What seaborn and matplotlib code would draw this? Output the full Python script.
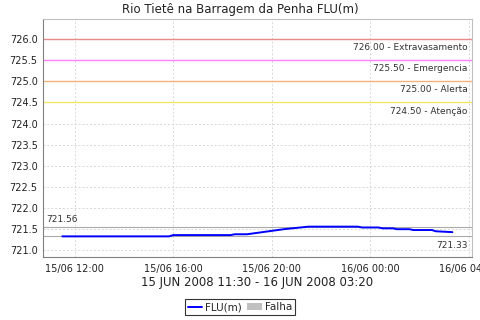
import matplotlib
matplotlib.use("Agg")
import matplotlib.pyplot as plt
import matplotlib.dates as mdates
from matplotlib.lines import Line2D
from matplotlib.patches import Patch
import seaborn as sns
import pandas as pd

times = ["2008-06-15 11:30", "2008-06-15 12:00", "2008-06-15 13:00", "2008-06-15 14:00",
         "2008-06-15 15:00", "2008-06-15 15:50", "2008-06-15 16:00", "2008-06-15 17:00",
         "2008-06-15 18:00", "2008-06-15 18:20", "2008-06-15 18:30", "2008-06-15 19:00",
         "2008-06-15 19:30", "2008-06-15 20:00", "2008-06-15 20:30", "2008-06-15 21:00",
         "2008-06-15 21:30", "2008-06-15 22:00", "2008-06-15 23:00", "2008-06-15 23:30",
         "2008-06-15 23:40", "2008-06-16 00:20", "2008-06-16 00:30", "2008-06-16 00:55",
         "2008-06-16 01:05", "2008-06-16 01:35", "2008-06-16 01:45", "2008-06-16 02:30",
         "2008-06-16 02:40", "2008-06-16 03:00", "2008-06-16 03:20"]
values = [721.33, 721.33, 721.33, 721.33,
          721.33, 721.33, 721.36, 721.36,
          721.36, 721.36, 721.38, 721.38,
          721.42, 721.46, 721.50, 721.53,
          721.56, 721.56, 721.56, 721.56,
          721.54, 721.54, 721.52, 721.52,
          721.50, 721.50, 721.48, 721.48,
          721.45, 721.44, 721.43]

thresh_values = [726.00, 725.50, 725.00, 724.50]
thresh_labels = ["726.00 - Extravasamento", "725.50 - Emergencia", "725.00 - Alerta", "724.50 - Atenção"]
thresh_colors = ["#E88A8A", "#FF7FFF", "#F4B27A", "#F2E66A"]

title = "Rio Tietê na Barragem da Penha FLU(m)"
xlabel = "15 JUN 2008 11:30 - 16 JUN 2008 03:20"

df = pd.DataFrame({"time": pd.to_datetime(times), "FLU(m)": values})

sns.set_style("white")
plt.rcParams["font.family"] = ["DejaVu Sans"]

fig = plt.figure(figsize=(4.8, 3.2), dpi=100)
ax = fig.add_axes([0.090, 0.198, 0.893, 0.742])

ax.grid(True, color="#D8D8D8", linestyle=(0, (2, 2)), linewidth=0.7)
ax.set_axisbelow(True)

for v, lab, c in zip(thresh_values, thresh_labels, thresh_colors):
    ax.axhline(v, color=c, linewidth=1.0, zorder=2)
    ax.annotate(lab, xy=(1, v), xycoords=("axes fraction", "data"),
                xytext=(-3, -3), textcoords="offset points", ha="right", va="top",
                fontsize=6.5, color="#333333")

vmax = max(values)
vmin = min(values)
ax.axhline(vmax, color="#AAAAAA", linewidth=0.8, zorder=2)
ax.axhline(vmin, color="#AAAAAA", linewidth=0.8, zorder=2)
ax.annotate(f"{vmax:.2f}", xy=(0, vmax), xycoords=("axes fraction", "data"),
            xytext=(2, 2), textcoords="offset points", ha="left", va="bottom",
            fontsize=6.5, color="#333333")
ax.annotate(f"{vmin:.2f}", xy=(1, vmin), xycoords=("axes fraction", "data"),
            xytext=(-3, -3), textcoords="offset points", ha="right", va="top",
            fontsize=6.5, color="#333333")

sns.lineplot(data=df, x="time", y="FLU(m)", ax=ax, color="#0000FF", linewidth=1.4, zorder=3)

t0 = df["time"].min()
t1 = df["time"].max()
span = t1 - t0
ax.set_xlim(t0 - span * 0.049, t1 + span * 0.05)
ax.set_ylim(720.85, 726.47)
ax.set_yticks([721.0 + 0.5 * i for i in range(11)])
ax.yaxis.set_major_formatter(matplotlib.ticker.FormatStrFormatter("%.1f"))
ax.xaxis.set_major_locator(mdates.HourLocator(byhour=[0, 4, 8, 12, 16, 20]))
ax.xaxis.set_major_formatter(mdates.DateFormatter("%d/%m %H:%M"))

ax.tick_params(axis="both", labelsize=7, length=2, width=0.6, color="#808080",
               direction="out", pad=2, labelcolor="#222222")
ax.tick_params(axis="x", pad=3)
for lab in ax.get_xticklabels():
    lab.set_ha("center")

ax.spines["left"].set_color("#808080")
ax.spines["bottom"].set_color("#808080")
ax.spines["top"].set_color("#C0C0C0")
ax.spines["right"].set_color("#C0C0C0")
for s in ax.spines.values():
    s.set_linewidth(0.8)
    s.set_visible(True)

ax.set_ylabel("")
ax.set_xlabel(xlabel, fontsize=8.5, labelpad=2, color="#222222")
fig.text(0.5, 0.970, title, fontsize=8.5, ha="center", va="center", color="#222222")

handles = [Line2D([0], [0], color="#0000FF", linewidth=1.4),
           Patch(facecolor="#C0C0C0", edgecolor="none")]
leg = fig.legend(handles, ["FLU(m)", "Falha"], loc="center", bbox_to_anchor=(0.5, 0.04),
                 ncol=2, fontsize=7.5, frameon=True, fancybox=False,
                 handlelength=1.4, handletextpad=0.3, columnspacing=0.5,
                 borderpad=0.3, borderaxespad=0)
leg.get_frame().set_edgecolor("black")
leg.get_frame().set_linewidth(0.8)

fig.savefig("out.png", dpi=100)
